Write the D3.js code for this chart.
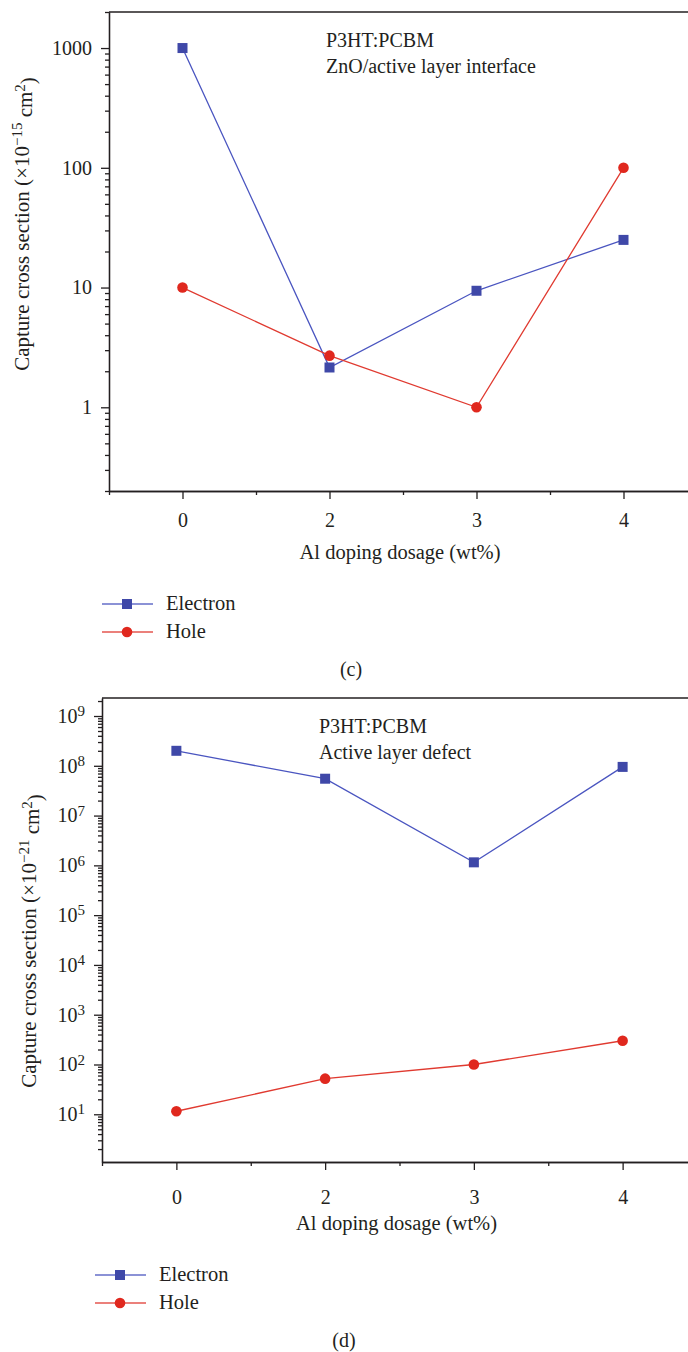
<!DOCTYPE html>
<html>
<head>
<meta charset="utf-8">
<script src="https://cdn.jsdelivr.net/npm/d3@7"></script>
<style>
  body { margin: 0; background: #fff; }
  svg { display: block; }
  text { font-family: "Liberation Serif", "Times New Roman", serif; fill: #231f20; }
  .axis path, .axis line { stroke: #231f20; stroke-width: 1.3; }
  .axis text { font-size: 20px; font-family: "Liberation Serif", serif; fill: #231f20; }
</style>
</head>
<body>
<svg id="chart" width="688" height="1352"></svg>
<script>
// categories (Al doping, wt%)
const categories = ["0", "2", "3", "4"];
// panel (c): ZnO/active layer interface, x10^-15 cm^2
const electronC = [1000, 2.15, 9.4, 25];
const holeC = [10, 2.7, 1, 100];
const yTicksC = [1, 10, 100, 1000];
// panel (d): active layer defect, x10^-21 cm^2
const electronD = [2e8, 5.5e7, 1.15e6, 9.5e7];
const holeD = [11.5, 52, 100, 300];
const yTicksD = [1e1, 1e2, 1e3, 1e4, 1e5, 1e6, 1e7, 1e8, 1e9];

const blue = "#3f48a8", blueLine = "#4a55c0";
const red = "#e0281e", redLine = "#e03a30";

const svg = d3.select("#chart");

function drawPanel(o) {
  const g = svg.append("g");
  const x = d3.scalePoint().domain(categories).range([o.left, 697]).padding(0.5);
  const y = d3.scaleLog().domain(o.yDomain).range([o.bottom, o.top]);
  const step = x.step();

  // top border
  g.append("line").attr("x1", o.left).attr("x2", 688).attr("y1", o.top).attr("y2", o.top)
    .attr("stroke", "#231f20").attr("stroke-width", 1.3);

  // minor y ticks
  const minor = [];
  const lo = Math.floor(Math.log10(o.yDomain[0])), hi = Math.ceil(Math.log10(o.yDomain[1]));
  for (let e = lo; e <= hi; e++)
    for (let m = 2; m <= 9; m++) {
      const v = m * Math.pow(10, e);
      if (v >= o.yDomain[0] && v <= o.yDomain[1]) minor.push(v);
    }
  g.append("g").attr("class", "axis").attr("transform", `translate(${o.left},0)`)
    .call(d3.axisLeft(y).tickValues(minor).tickSize(4).tickSizeOuter(0).tickFormat(""));

  const yAxis = g.append("g").attr("class", "axis").attr("transform", `translate(${o.left},0)`)
    .call(d3.axisLeft(y).tickValues(o.yTicks).tickSize(8).tickSizeOuter(0).tickPadding(9)
      .tickFormat(o.power ? () => "" : d3.format("d")));
  if (o.power) {
    yAxis.selectAll(".tick text").each(function (d) {
      const t = d3.select(this);
      t.append("tspan").text("10");
      t.append("tspan").attr("dy", "-0.45em").attr("font-size", "15px").text(Math.round(Math.log10(d)));
    });
  }

  // x axis: major at categories, minor between
  const xMinor = categories.map(c => x(c) - step / 2).concat([x(categories[categories.length - 1]) + step / 2]);
  g.append("g").attr("class", "axis").attr("transform", `translate(0,${o.bottom})`)
    .call(d3.axisBottom(d3.scaleLinear().domain([o.left, 697]).range([o.left, 697]))
      .tickValues(xMinor).tickSize(4).tickSizeOuter(0).tickFormat(""));
  g.append("g").attr("class", "axis").attr("transform", `translate(0,${o.bottom})`)
    .call(d3.axisBottom(x).tickSize(8).tickSizeOuter(0).tickPadding(o.xPad));

  // y-axis title
  const yt = g.append("text").attr("transform", `translate(${o.yTitleX},${o.yTitleY}) rotate(-90)`)
    .attr("text-anchor", "middle").attr("font-size", "21px");
  yt.append("tspan").text("Capture cross section (×10");
  yt.append("tspan").attr("dy", "-0.5em").attr("font-size", "15px").text("−" + o.exp);
  yt.append("tspan").attr("dy", "0.5em").text(" cm");
  yt.append("tspan").attr("dy", "-0.5em").attr("font-size", "15px").text("2");
  yt.append("tspan").attr("dy", "0.5em").text(")");

  // x-axis title
  g.append("text").attr("x", (o.left + 697) / 2 - 3).attr("y", o.bottom + 68)
    .attr("text-anchor", "middle").attr("font-size", "20.5px").text("Al doping dosage (wt%)");

  // annotations
  g.append("text").attr("x", o.left + 217).attr("y", o.top + 35).attr("font-size", "20px").text("P3HT:PCBM");
  g.append("text").attr("x", o.left + 217).attr("y", o.top + 61).attr("font-size", "20px").text(o.note);

  // series
  const line = d3.line().x((d, i) => x(categories[i])).y(d => y(d));
  g.append("path").datum(o.electron).attr("d", line).attr("fill", "none")
    .attr("stroke", blueLine).attr("stroke-width", 1.3);
  g.append("path").datum(o.hole).attr("d", line).attr("fill", "none")
    .attr("stroke", redLine).attr("stroke-width", 1.3);
  g.selectAll(".sq").data(o.electron).join("rect")
    .attr("x", (d, i) => x(categories[i]) - 5).attr("y", d => y(d) - 5)
    .attr("width", 10).attr("height", 10).attr("fill", blue);
  g.selectAll(".ci").data(o.hole).join("circle")
    .attr("cx", (d, i) => x(categories[i])).attr("cy", d => y(d)).attr("r", 5.3).attr("fill", red);

  // legend
  const lx = o.left - 7, ly = o.bottom + 113;
  [["Electron", blueLine, blue, "sq"], ["Hole", redLine, red, "ci"]].forEach((s, k) => {
    const yy = ly + k * 28;
    g.append("line").attr("x1", lx).attr("x2", lx + 51).attr("y1", yy).attr("y2", yy)
      .attr("stroke", s[1]).attr("stroke-width", 1.3).attr("opacity", 0.85);
    if (s[3] === "sq") g.append("rect").attr("x", lx + 20).attr("y", yy - 5).attr("width", 10).attr("height", 10).attr("fill", s[2]);
    else g.append("circle").attr("cx", lx + 25).attr("cy", yy).attr("r", 5.3).attr("fill", s[2]);
    g.append("text").attr("x", lx + 64).attr("y", yy + 6).attr("font-size", "20.5px").text(s[0]);
  });

  g.append("text").attr("x", o.labelX).attr("y", o.bottom + 185).attr("text-anchor", "middle")
    .attr("font-size", "20px").text(o.label);
}

drawPanel({ left: 109, top: 12, bottom: 491, yDomain: [0.2, 2000], yTicks: yTicksC, power: false,
  electron: electronC, hole: holeC, exp: "15", note: "ZnO/active layer interface",
  yTitleX: 29, yTitleY: 224, xPad: 14, label: "(c)", labelX: 351 });
drawPanel({ left: 102, top: 698, bottom: 1162, yDomain: [1.1, 2.3e9], yTicks: yTicksD, power: true,
  electron: electronD, hole: holeD, exp: "21", note: "Active layer defect",
  yTitleX: 36, yTitleY: 941, xPad: 20, label: "(d)", labelX: 344 });
</script>
</body>
</html>
